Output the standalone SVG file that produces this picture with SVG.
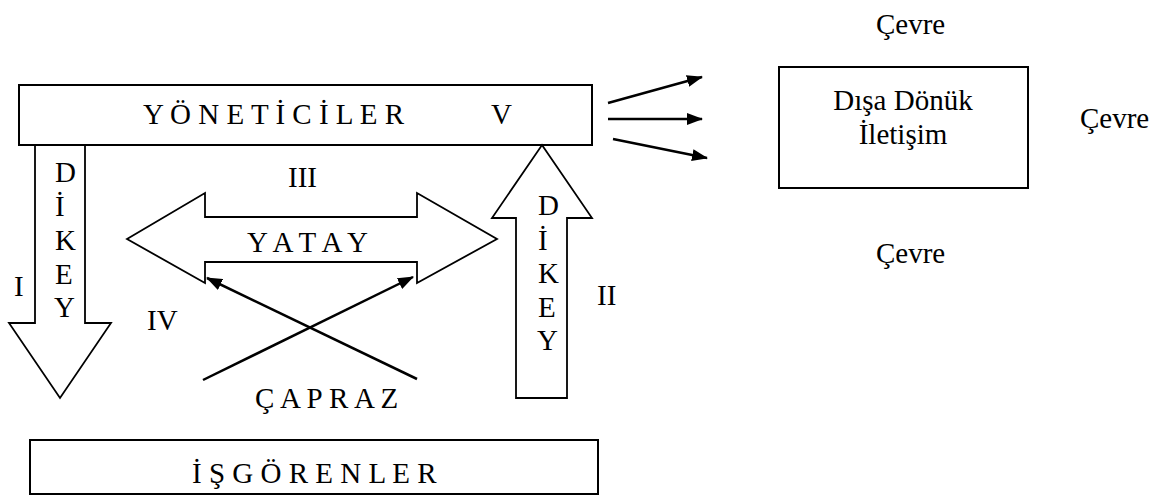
<svg xmlns="http://www.w3.org/2000/svg" width="1162" height="496" viewBox="0 0 1162 496">
  <style>
    text { font-family: 'Liberation Serif', 'Times New Roman', 'DejaVu Serif', serif; font-size: 29px; fill: #000; }
    .box { fill: #fff; stroke: #000; stroke-width: 2; }
    .blk { fill: #fff; stroke: #000; stroke-width: 1.8; stroke-linejoin: miter; }
    .ln { fill: none; stroke: #000; stroke-width: 2.5; }
  </style>
  <defs>
    <marker id="ah2" markerWidth="16" markerHeight="12" refX="15" refY="6" orient="auto" markerUnits="userSpaceOnUse" viewBox="0 0 16 12">
      <path d="M0,0 L16,6 L0,12 Z" fill="#000"/>
    </marker>
  </defs>

  <g font-family="'Liberation Serif', 'Times New Roman', serif" font-size="29">
  <g id="yoneticiler">
    <rect class="box" x="19" y="85" width="573" height="60"/>
    <text x="143" y="124">Y Ö N E T İ C İ L E R</text>
    <text x="491" y="124">V</text>
  </g>

  <g id="dikey-asagi">
    <polygon class="blk" points="35,145 85,145 85,323 111,323 60,398 9,323 35,323"/>
    <text x="55" y="182">D</text>
    <text x="55" y="216">İ</text>
    <text x="55" y="250">K</text>
    <text x="55" y="284">E</text>
    <text x="54" y="317">Y</text>
    <text x="14" y="296">I</text>
  </g>

  <g id="yatay">
    <polygon class="blk" points="127,239 205,193 205,217 417,217 417,193 497,239 417,283 417,262 205,262 205,283"/>
    <text x="288" y="187">III</text>
    <text x="247" y="252">Y A T A Y</text>
  </g>

  <g id="dikey-yukari">
    <polygon class="blk" points="542,145 592,218 567,218 567,398 516,398 516,218 492,218"/>
    <text x="538" y="215">D</text>
    <text x="538" y="250">İ</text>
    <text x="538" y="283">K</text>
    <text x="538" y="317">E</text>
    <text x="537" y="350">Y</text>
    <text x="597" y="305">II</text>
  </g>

  <g id="capraz">
    <text x="147" y="330">IV</text>
    <text x="255" y="408">Ç A P R A Z</text>
  </g>

  <g id="isgorenler">
    <rect class="box" x="30" y="440" width="568" height="54"/>
    <text x="192" y="483">İ Ş G Ö R E N L E R</text>
  </g>

  <g id="disa-donuk">
    <rect class="box" x="779" y="67" width="249" height="121"/>
    <text x="903" y="110" text-anchor="middle">Dışa Dönük</text>
    <text x="903" y="144" text-anchor="middle">İletişim</text>
  </g>

  <g id="cevre">
    <text x="876" y="34">Çevre</text>
    <text x="1080" y="128">Çevre</text>
    <text x="876" y="263">Çevre</text>
  </g>
  </g>

  <g id="connectors">
    <line class="ln" x1="203" y1="380" x2="413" y2="277" marker-end="url(#ah2)"/>
    <line class="ln" x1="417" y1="379" x2="207" y2="278" marker-end="url(#ah2)"/>
    <line class="ln" x1="608" y1="103" x2="702" y2="77" marker-end="url(#ah2)"/>
    <line class="ln" x1="608" y1="119" x2="702" y2="119" marker-end="url(#ah2)"/>
    <line class="ln" x1="613" y1="139" x2="707" y2="158" marker-end="url(#ah2)"/>
  </g>
</svg>
